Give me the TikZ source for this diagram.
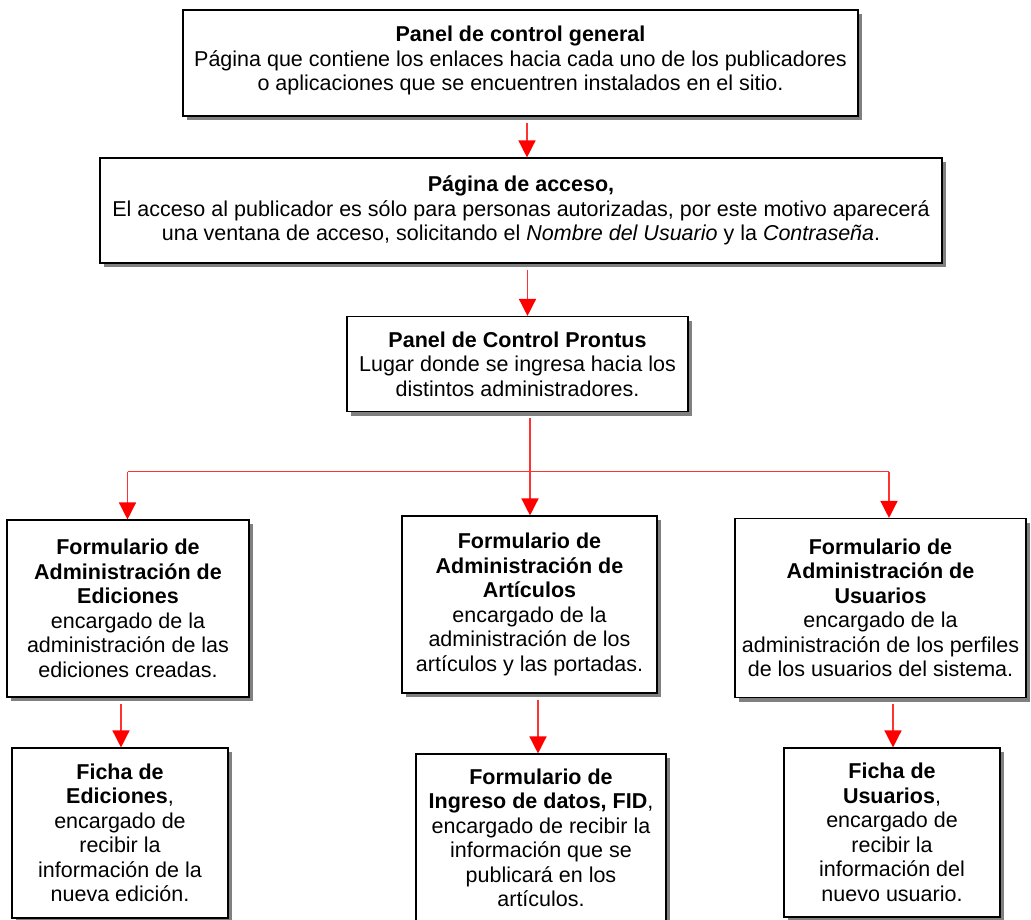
\documentclass[tikz,border=0pt]{standalone}
\usepackage{fontspec}
\setmainfont{Liberation Sans}
\usetikzlibrary{arrows.meta,shadows}
\definecolor{linered}{RGB}{255,50,50}
\definecolor{shadowgray}{RGB}{128,128,128}
\begin{document}
\begin{tikzpicture}[x=1pt,y=-1pt,
  box/.style={draw=black,line width=1.1pt,fill=white,rectangle,align=center,
    inner sep=2pt,font=\fontsize{21.5}{24.5}\selectfont,
    drop shadow={shadow xshift=4pt,shadow yshift=-4pt,fill=shadowgray,opacity=1}},
  conn/.style={draw=linered,line width=1.4pt,shorten <=6pt,
    -{Triangle[length=17pt,width=17pt,color=red]}},
  plainline/.style={draw=linered,line width=1.4pt}]
\clip (0,0) rectangle (1031,920);
\fill[white] (0,0) rectangle (1031,920);

\node[box,minimum width=675pt,minimum height=106pt] (B1) at (520.5,63)
 {\textbf{Panel de control general}\\
  Página que contiene los enlaces hacia cada uno de los publicadores\\
  o aplicaciones que se encuentren instalados en el sitio.\\[-15pt]\mbox{}};
\node[box,minimum width=842pt,minimum height=105pt] (B2) at (521,210.5)
 {\textbf{Página de acceso,}\\
  El acceso al publicador es sólo para personas autorizadas, por este motivo aparecerá\\
  una ventana de acceso, solicitando el \textit{Nombre del Usuario} y la \textit{Contraseña}.};
\node[box,minimum width=341pt,minimum height=95pt] (B3) at (517.5,364)
 {\textbf{Panel de Control Prontus}\\
  Lugar donde se ingresa hacia los\\
  distintos administradores.};
\node[box,minimum width=242pt,minimum height=177pt] (B4) at (128,608.5)
 {\textbf{Formulario de}\\
  \textbf{Administración de}\\
  \textbf{Ediciones}\\
  encargado de la\\
  administración de las\\
  ediciones creadas.};
\node[box,minimum width=255pt,minimum height=177pt] (B5) at (529.5,604.5)
 {\textbf{Formulario de}\\
  \textbf{Administración de}\\
  \textbf{Artículos}\\
  encargado de la\\
  administración de los\\
  artículos y las portadas.};
\node[box,minimum width=291pt,minimum height=179pt] (B6) at (880.5,608)
 {\textbf{Formulario de}\\
  \textbf{Administración de}\\
  \textbf{Usuarios}\\
  encargado de la\\
  administración de los perfiles\\
  de los usuarios del sistema.};
\node[box,minimum width=216pt,minimum height=170pt] (B7) at (120,833)
 {\textbf{Ficha de}\\
  \textbf{Ediciones},\\
  encargado de\\
  recibir la\\
  información de la\\
  nueva edición.};
\node[box,minimum width=250pt,minimum height=168pt] (B8) at (541,838)
 {\textbf{Formulario de}\\
  \textbf{Ingreso de datos, FID},\\
  encargado de recibir la\\
  información que se\\
  publicará en los\\
  artículos.};
\node[box,minimum width=216pt,minimum height=169pt] (B9) at (892,832.5)
 {\textbf{Ficha de}\\
  \textbf{Usuarios},\\
  encargado de\\
  recibir la\\
  información del\\
  nuevo usuario.};

\draw[conn] ([xshift=6.5pt]B1.south) -- ([xshift=6.5pt]B1.south |- B2.north);
\draw[conn] ([xshift=6.5pt]B2.south) -- ([xshift=6.5pt]B2.south |- B3.north);
\draw[conn] ([xshift=12.5pt]B3.south) -- ([xshift=12.5pt]B3.south |- B5.north);
\coordinate (TL) at (127.5,471.7);
\coordinate (TR) at (889,471.7);
\draw[plainline] (TL) -- (TR);
\draw[conn,shorten <=0pt] (TL) -- (TL |- B4.north);
\draw[conn,shorten <=0pt] (TR) -- (TR |- B6.north);
\draw[conn] ([xshift=-7pt]B4.south) -- ([xshift=-7pt]B4.south |- B7.north);
\draw[conn] ([xshift=8.5pt]B5.south) -- ([xshift=8.5pt]B5.south |- B8.north);
\draw[conn] ([xshift=12.5pt]B6.south) -- ([xshift=12.5pt]B6.south |- B9.north);
\end{tikzpicture}
\end{document}
